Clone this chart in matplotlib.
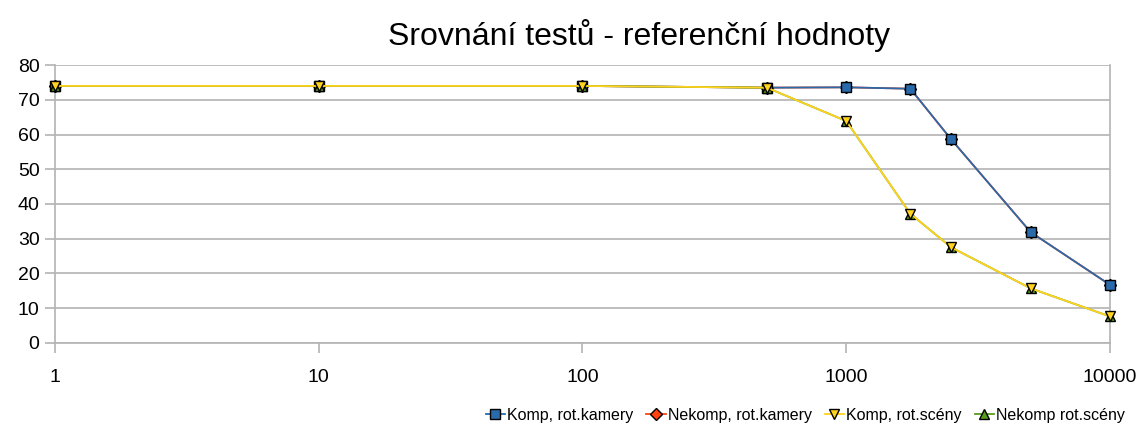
import matplotlib as mpl
mpl.use('Agg')
import matplotlib.pyplot as plt
import numpy as np

plt.rcParams['font.family'] = ['Liberation Sans', 'DejaVu Sans']

x = [1, 10, 100, 500, 1000, 1750, 2500, 5000, 10000]
komp_kamery = [74, 74, 74, 73.5, 73.6, 73.2, 58.6, 31.9, 16.7]
nekomp_kamery = [74, 74, 74, 73.5, 73.6, 73.2, 58.6, 31.9, 16.7]
komp_sceny = [74, 74, 74, 73.5, 63.9, 37.2, 27.5, 15.7, 7.6]
nekomp_sceny = [74, 74, 74, 73.5, 63.9, 37.2, 27.5, 15.7, 7.6]

labels = ["Komp, rot.kamery", "Nekomp, rot.kamery", "Komp, rot.scény", "Nekomp rot.scény"]
colors = ["#2a6aaa", "#ff420e", "#ffd320", "#579d1c"]
markers = ["s", "D", "v", "^"]
series = [komp_kamery, nekomp_kamery, komp_sceny, nekomp_sceny]
zorders = [4, 3, 6, 5]

fig = plt.figure(figsize=(11.42, 4.34), dpi=100)
ax = fig.add_axes([0.048, 0.21, 0.924, 0.64])

for ys, lab, c, m, z in zip(series, labels, colors, markers, zorders):
    ax.plot(x, ys, color=c, marker=m, markersize=6.5, markeredgecolor='black',
            markeredgewidth=1.0, linewidth=1.3, label=lab, zorder=z, clip_on=False)

ax.set_xscale('log')
ax.set_xlim(1, 10000)
ax.set_ylim(0, 80)
ax.set_yticks(range(0, 81, 10))
ax.set_xticks([1, 10, 100, 1000, 10000])
ax.set_xticklabels(["1", "10", "100", "1000", "10000"])
ax.xaxis.set_minor_locator(mpl.ticker.NullLocator())
ax.grid(axis='y', color='#b3b3b3', linewidth=1.2)
ax.set_axisbelow(True)
for s in ['left', 'bottom', 'right']:
    ax.spines[s].set_color('#b3b3b3')
    ax.spines[s].set_linewidth(1.2)
ax.spines['top'].set_visible(False)
ax.tick_params(axis='both', colors='#b3b3b3', labelcolor='black', labelsize=14, length=7, width=1.2)
ax.tick_params(axis='x', pad=12)
ax.tick_params(axis='y', pad=4)

fig.text(0.56, 0.918, "Srovnání testů - referenční hodnoty", ha='center', va='center', fontsize=23)

fig.legend(loc='lower right', bbox_to_anchor=(0.995, 0.0), ncol=4, frameon=False, fontsize=11.5,
           handlelength=1.2, handletextpad=0.15, columnspacing=0.8, borderaxespad=0.3)

plt.savefig("out.png", dpi=100)
